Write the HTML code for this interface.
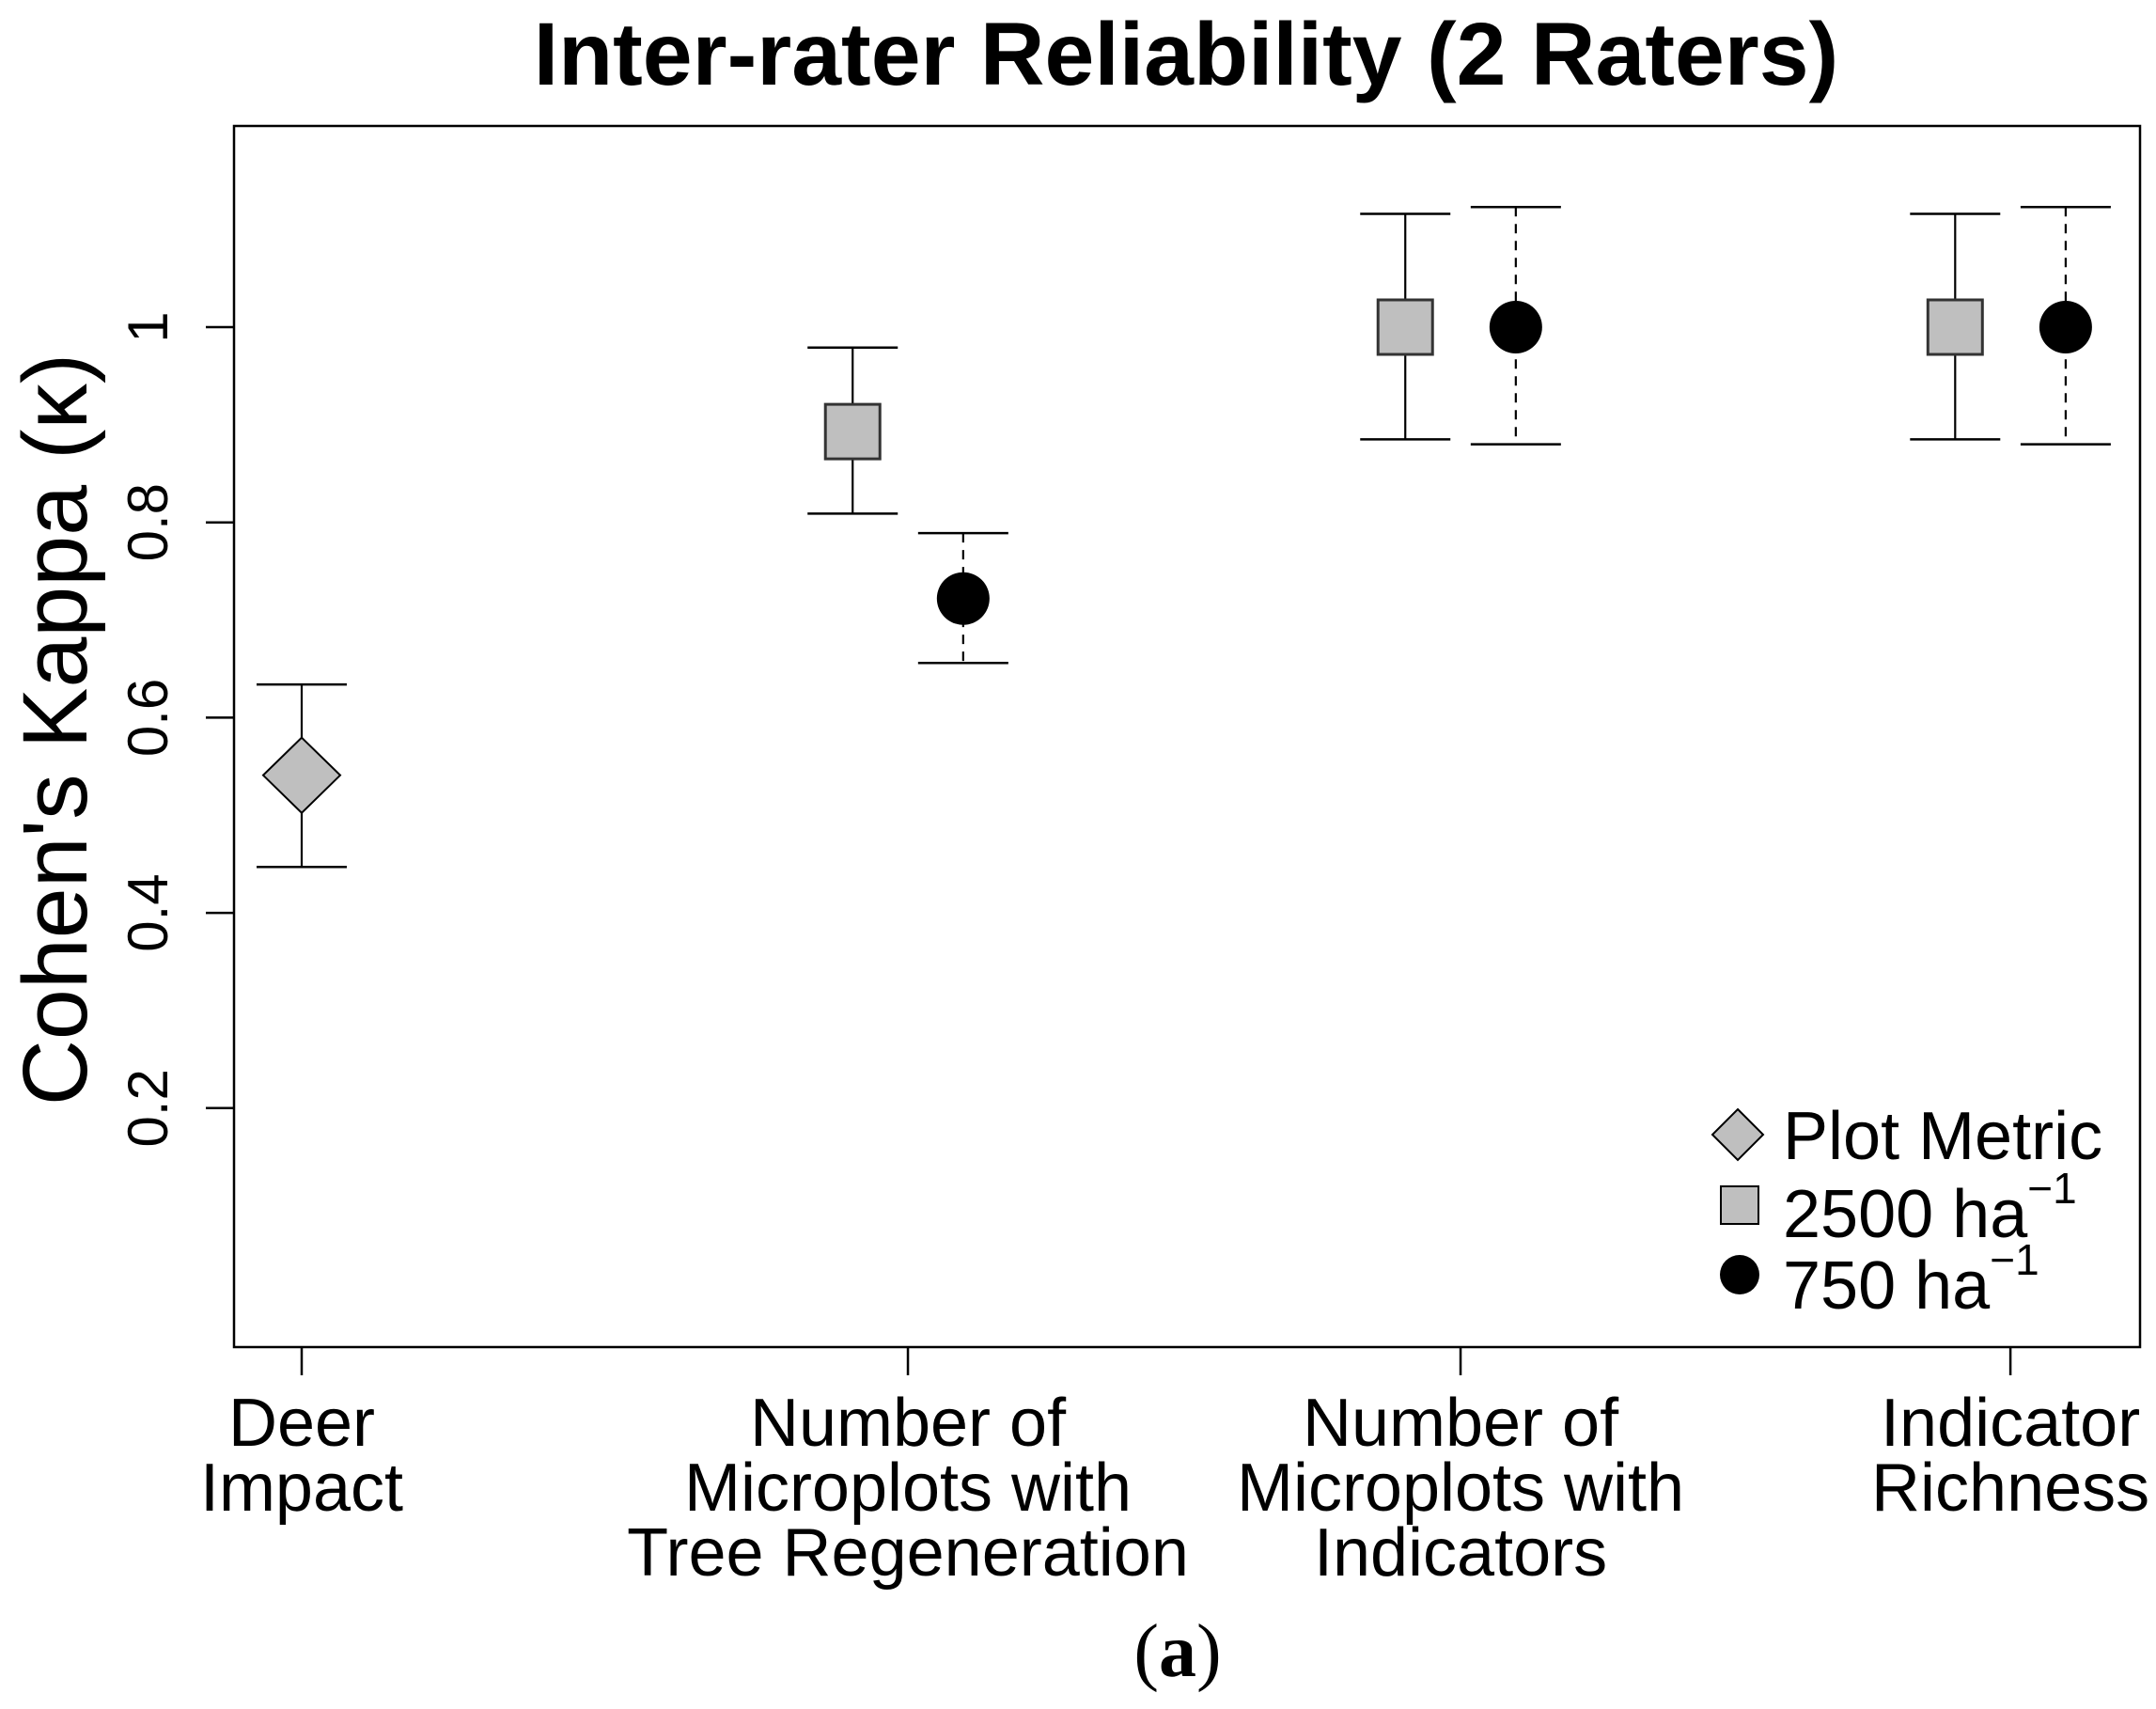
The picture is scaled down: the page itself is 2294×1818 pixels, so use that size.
<!DOCTYPE html>
<html><head><meta charset="utf-8"><style>
html,body{margin:0;padding:0;background:#fff;}
svg{display:block;font-family:"Liberation Sans",sans-serif;}
</style></head><body>
<svg id="chart" width="2294" height="1818" viewBox="0 0 2294 1818">
<text x="1262" y="90" text-anchor="middle" font-size="95" font-weight="bold">Inter-rater Reliability (2 Raters)</text>
<rect x="249" y="134" width="2028" height="1299" fill="none" stroke="#000" stroke-width="2.5"/>
<text transform="translate(92,776) rotate(-90)" text-anchor="middle" font-size="97">Cohen's Kappa (κ)</text>
<g id="yaxis"></g>
<g id="xaxis"></g>
<g id="marks"></g>
<g>
<polygon points="1849,1180 1876,1207 1849,1234 1822,1207" fill="#bfbfbf" stroke="#000" stroke-width="2"/>
<text x="1897" y="1233" font-size="72">Plot Metric</text>
<rect x="1831" y="1262" width="40" height="40" fill="#bfbfbf" stroke="#000" stroke-width="2"/>
<text x="1897" y="1316" font-size="72">2500 ha<tspan dy="-36" font-size="46">−1</tspan></text>
<circle cx="1851" cy="1356" r="21" fill="#000"/>
<text x="1897" y="1392" font-size="72">750 ha<tspan dy="-36" font-size="46">−1</tspan></text>
</g>
<text x="1253" y="1783" text-anchor="middle" font-size="80" font-family="Liberation Serif,serif">(<tspan font-weight="bold">a</tspan>)</text>
</svg>
<script>
const categories = [["Deer","Impact"],["Number of","Microplots with","Tree Regeneration"],["Number of","Microplots with","Indicators"],["Indicator","Richness"]];
const catPos = [1, 2.097, 3.097, 4.092];
const yTicks = [0.2, 0.4, 0.6, 0.8, 1];
const yTickLabels = ["0.2","0.4","0.6","0.8","1"];
const plotMetric = [0.541, null, null, null];
const plotMetricLo = [0.447, null, null, null];
const plotMetricHi = [0.634, null, null, null];
const sq2500 = [null, 0.893, 1.0, 1.0];
const sq2500Lo = [null, 0.809, 0.885, 0.885];
const sq2500Hi = [null, 0.979, 1.116, 1.116];
const c750 = [null, 0.722, 1.0, 1.0];
const c750Lo = [null, 0.656, 0.880, 0.880];
const c750Hi = [null, 0.789, 1.123, 1.123];

const NS = "http://www.w3.org/2000/svg";
function X(v){ return 321 + (v - 1) * 588; }
function Y(v){ return 348 - (v - 1) * 1038.5; }
function mk(tag, attrs, parent){ const e = document.createElementNS(NS, tag); for (const k in attrs) e.setAttribute(k, attrs[k]); parent.appendChild(e); return e; }

const ya = document.getElementById('yaxis');
yTicks.forEach((t, i) => {
  const l = mk('line', {x1:249, x2:219, y1:Y(t), y2:Y(t), stroke:'#000', 'stroke-width':2.5}, ya);
  
  
  const tx = mk('text', {transform:`translate(178,${Y(t)}) rotate(-90)`, 'text-anchor':'middle', 'font-size':60}, ya);
  tx.textContent = yTickLabels[i];
  
  
});
const xa = document.getElementById('xaxis');
categories.forEach((c, i) => {
  const x = X(catPos[i]);
  const l = mk('line', {x1:x, x2:x, y1:1433, y2:1463, stroke:'#000', 'stroke-width':2.5}, xa);
  
  
  c.forEach((line, j) => {
    const tx = mk('text', {x:x, y:1538 + j * 69, 'text-anchor':'middle', 'font-size':72}, xa);
    tx.textContent = line;
    
    
  });
});
const g = document.getElementById('marks');
function errbar(x, lo, hi, dashed){
  const l = mk('line', {x1:x, x2:x, y1:Y(hi), y2:Y(lo), stroke:'#000', 'stroke-width':2.2}, g);
  if (dashed) l.setAttribute('stroke-dasharray', '10,8');
  
  
  [hi, lo].forEach(v => {
    const c = mk('line', {x1:x-48, x2:x+48, y1:Y(v), y2:Y(v), stroke:'#000', 'stroke-width':2.5}, g);
    
    
  });
}
catPos.forEach((p, i) => {
  if (plotMetric[i] != null) {
    const x = X(p), y = Y(plotMetric[i]);
    errbar(x, plotMetricLo[i], plotMetricHi[i], false);
    const d = mk('polygon', {points:`${x},${y-40} ${x+41},${y} ${x},${y+40} ${x-41},${y}`, fill:'#bfbfbf', stroke:'#000', 'stroke-width':2}, g);
    
    
  }
  if (sq2500[i] != null) {
    const x = X(p - 0.1), y = Y(sq2500[i]);
    errbar(x, sq2500Lo[i], sq2500Hi[i], false);
    const r = mk('rect', {x:x-29, y:y-29, width:58, height:58, fill:'#bfbfbf', stroke:'#333', 'stroke-width':3}, g);
    
    
  }
  if (c750[i] != null) {
    const x = X(p + 0.1), y = Y(c750[i]);
    errbar(x, c750Lo[i], c750Hi[i], true);
    const c = mk('circle', {cx:x, cy:y, r:28, fill:'#000'}, g);
    
    
  }
});
</script>
</body></html>
